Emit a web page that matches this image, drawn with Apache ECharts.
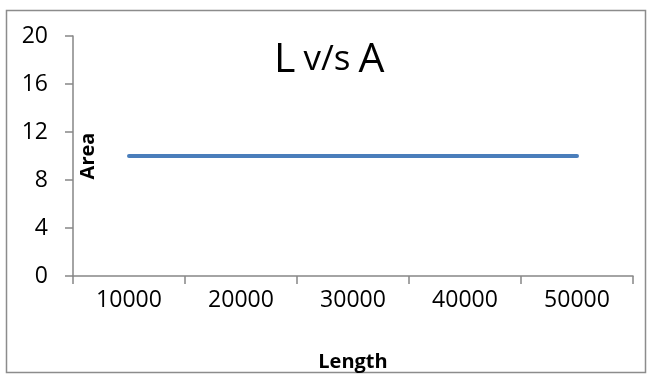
<!DOCTYPE html>
<html>
<head>
<meta charset="utf-8">
<script src="https://cdn.jsdelivr.net/npm/echarts@6/dist/echarts.min.js"></script>
<style>html,body{margin:0;padding:0;background:#fff}#c{width:648px;height:375px}</style>
</head>
<body>
<div id="c"></div>
<script>
const categories = ['10000', '20000', '30000', '40000', '50000'];
const areaValues = [10, 10, 10, 10, 10];
const yMin = 0, yMax = 20, yStep = 4;

const chart = echarts.init(document.getElementById('c'), null, {renderer: 'canvas'});
const font = 'Open Sans';
chart.setOption({
  animation: false,
  backgroundColor: '#fff',
  graphic: [{
    type: 'rect', left: 4, top: 8,
    shape: {width: 639, height: 362},
    style: {fill: 'none', stroke: '#8c8c8c', lineWidth: 1.5}
  }],
  title: {
    text: '{b|L}{s|v/s}{b|A}',
    left: 269, top: 35,
    textStyle: {
      fontWeight: 'normal',
      rich: {
        b: {fontFamily: font, fontSize: 41, fontWeight: 'normal', color: '#000'},
        s: {fontFamily: font, fontSize: 35, fontWeight: 'normal', color: '#000', padding: [0, 8, 0, 8]}
      }
    }
  },
  grid: {left: 73, right: 15, top: 36, bottom: 99, containLabel: false, outerBoundsMode: 'none'},
  xAxis: {
    type: 'category', data: categories, boundaryGap: true,
    name: 'Length', nameLocation: 'middle', nameGap: 76, nameMoveOverlap: false,
    nameTextStyle: {fontFamily: font, fontWeight: 'bold', fontSize: 20, color: '#000'},
    axisLine: {lineStyle: {color: '#868686', width: 1.5}},
    axisTick: {show: true, length: 8, lineStyle: {color: '#868686', width: 1.5}},
    axisLabel: {fontFamily: font, fontSize: 23, color: '#000', margin: 13}
  },
  yAxis: {
    type: 'value', min: yMin, max: yMax, interval: yStep,
    name: 'Area', nameLocation: 'middle', nameGap: -25, nameRotate: 90, nameMoveOverlap: false,
    nameTextStyle: {fontFamily: font, fontWeight: 'bold', fontSize: 20, color: '#000'},
    axisLine: {show: true, lineStyle: {color: '#868686', width: 1.5}},
    axisTick: {show: true, length: 8, lineStyle: {color: '#868686', width: 1.5}},
    splitLine: {show: false},
    axisLabel: {fontFamily: font, fontSize: 23, color: '#000', margin: 25}
  },
  series: [{
    type: 'line', data: areaValues, symbol: 'none',
    lineStyle: {color: '#4a7ebb', width: 4, cap: 'round'}
  }]
});
</script>
</body>
</html>
